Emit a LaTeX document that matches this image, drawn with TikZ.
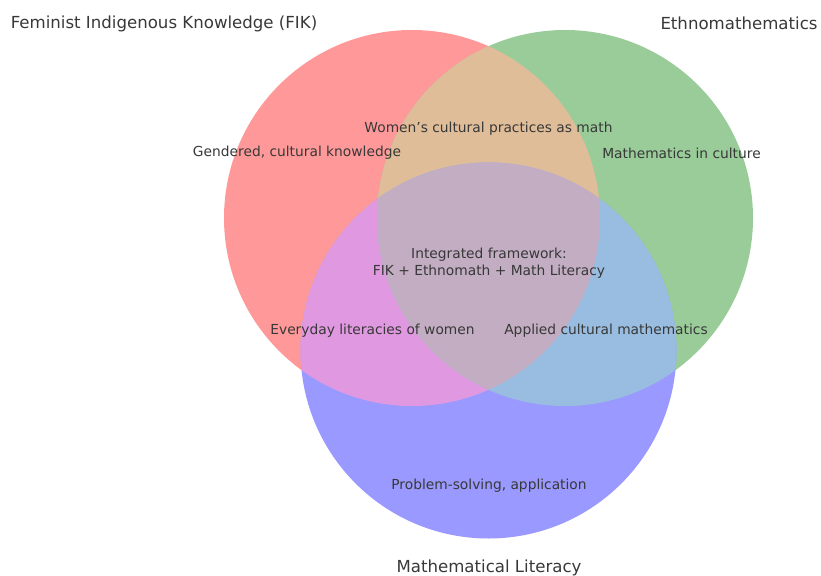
\documentclass[tikz,border=0pt]{standalone}
\usepackage{fontspec}
\setmainfont{DejaVu Sans}

\definecolor{fikfill}{RGB}{255,153,153}
\definecolor{ethfill}{RGB}{153,204,153}
\definecolor{litfill}{RGB}{153,153,255}
\definecolor{fikethfill}{RGB}{224,189,153}
\definecolor{fiklitfill}{RGB}{224,153,224}
\definecolor{ethlitfill}{RGB}{153,189,224}
\definecolor{allfill}{RGB}{194,173,194}

\begin{document}
\begin{tikzpicture}[
    x=1pt, y=-1pt,
    setlabel/.style={
        text=black!78,
        font=\fontsize{16.6}{20}\selectfont
    },
    regionlabel/.style={
        text=black!78,
        align=center,
        font=\fontsize{13.8}{17}\selectfont
    }
]
\useasboundingbox (0,0) rectangle (821,575);
\def\rad{188pt}

\coordinate (fik) at (412,218);
\coordinate (eth) at (565,218);
\coordinate (lit) at (488.5,350.5);

% single sets
\fill[fikfill] (fik) circle (\rad);
\fill[ethfill] (eth) circle (\rad);
\fill[litfill] (lit) circle (\rad);

% pairwise overlaps
\begin{scope}
    \clip (fik) circle (\rad);
    \fill[fikethfill] (eth) circle (\rad);
    \fill[fiklitfill] (lit) circle (\rad);
\end{scope}
\begin{scope}
    \clip (eth) circle (\rad);
    \fill[ethlitfill] (lit) circle (\rad);
\end{scope}

% centre
\begin{scope}
    \clip (fik) circle (\rad);
    \clip (eth) circle (\rad);
    \fill[allfill] (lit) circle (\rad);
\end{scope}

\node[setlabel] (fiktitle) at (164,23.5) {Feminist Indigenous Knowledge (FIK)};
\node[setlabel] (ethtitle) at (739,23.5) {Ethnomathematics};
\node[setlabel] (littitle) at (489,567.5) {Mathematical Literacy};

\node[regionlabel] (fikonly) at (297,153) {Gendered, cultural knowledge};
\node[regionlabel] (ethonly) at (681.5,153) {Mathematics in culture};
\node[regionlabel] (litonly) at (489,486) {Problem-solving, application};
\node[regionlabel] (fiketh) at (488.5,129) {Women’s cultural practices as math};
\node[regionlabel] (fiklit) at (372.5,331) {Everyday literacies of women};
\node[regionlabel] (ethlit) at (606,331) {Applied cultural mathematics};
\node[regionlabel] (core) at (489,263.5) {Integrated framework:\\FIK + Ethnomath + Math Literacy};

\end{tikzpicture}
\end{document}
